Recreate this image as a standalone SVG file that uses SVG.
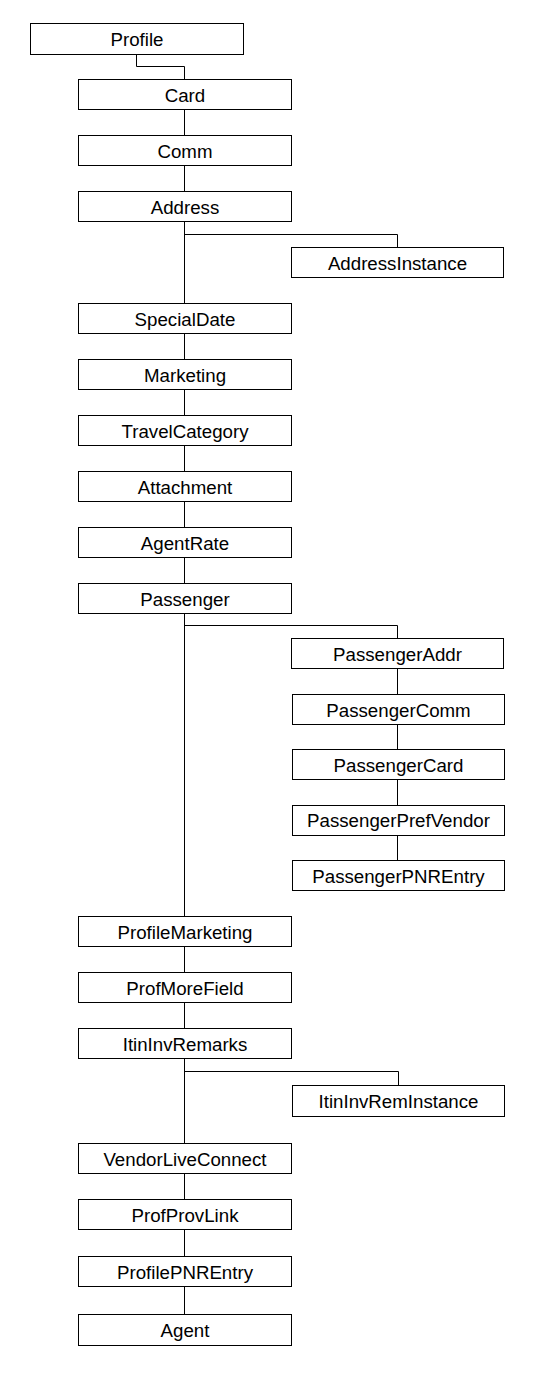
<svg xmlns="http://www.w3.org/2000/svg" width="536" height="1385" viewBox="0 0 536 1385">
<style>
rect{fill:#fff;stroke:#000;stroke-width:1}
text{font-family:"Liberation Sans",Arial,sans-serif;font-size:18.7px;fill:#000;text-anchor:middle}
#connectors path{fill:none;stroke:#000;stroke-width:1}
</style>
<rect x="0" y="0" width="536" height="1385" style="stroke:none"/>
<g id="connectors">
<path d="M136.5 54.5V66.5H184.5V79.5"/>
<path d="M184.5 109.5V135.5"/>
<path d="M184.5 165.5V191.5"/>
<path d="M184.5 221.5V303.5"/>
<path d="M184.5 234.5H397.5V247.5"/>
<path d="M184.5 333.5V359.5"/>
<path d="M184.5 389.5V415.5"/>
<path d="M184.5 445.5V471.5"/>
<path d="M184.5 501.5V527.5"/>
<path d="M184.5 557.5V583.5"/>
<path d="M184.5 613.5V916.5"/>
<path d="M184.5 625.5H397.5V638.5"/>
<path d="M397.5 668.5V694.5"/>
<path d="M397.5 724.5V749.5"/>
<path d="M397.5 779.5V805.5"/>
<path d="M397.5 835.5V860.5"/>
<path d="M184.5 946.5V972.5"/>
<path d="M184.5 1002.5V1028.5"/>
<path d="M184.5 1058.5V1143.5"/>
<path d="M184.5 1071.5H398.5V1085.5"/>
<path d="M184.5 1173.5V1199.5"/>
<path d="M184.5 1229.5V1256.5"/>
<path d="M184.5 1286.5V1314.5"/>
</g>
<g id="Profile"><rect x="30.5" y="23.5" width="213" height="31"/><text x="137" y="46">Profile</text></g>
<g id="Card"><rect x="78.5" y="79.5" width="213" height="30"/><text x="185" y="101.5">Card</text></g>
<g id="Comm"><rect x="78.5" y="135.5" width="213" height="30"/><text x="185" y="157.5">Comm</text></g>
<g id="Address"><rect x="78.5" y="191.5" width="213" height="30"/><text x="185" y="213.5">Address</text></g>
<g id="AddressInstance"><rect x="291.5" y="247.5" width="212" height="30"/><text x="397.5" y="269.5">AddressInstance</text></g>
<g id="SpecialDate"><rect x="78.5" y="303.5" width="213" height="30"/><text x="185" y="325.5">SpecialDate</text></g>
<g id="Marketing"><rect x="78.5" y="359.5" width="213" height="30"/><text x="185" y="381.5">Marketing</text></g>
<g id="TravelCategory"><rect x="78.5" y="415.5" width="213" height="30"/><text x="185" y="437.5">TravelCategory</text></g>
<g id="Attachment"><rect x="78.5" y="471.5" width="213" height="30"/><text x="185" y="493.5">Attachment</text></g>
<g id="AgentRate"><rect x="78.5" y="527.5" width="213" height="30"/><text x="185" y="549.5">AgentRate</text></g>
<g id="Passenger"><rect x="78.5" y="583.5" width="213" height="30"/><text x="185" y="605.5">Passenger</text></g>
<g id="PassengerAddr"><rect x="291.5" y="638.5" width="212" height="30"/><text x="397.5" y="660.5">PassengerAddr</text></g>
<g id="PassengerComm"><rect x="292.5" y="694.5" width="212" height="30"/><text x="398.5" y="716.5">PassengerComm</text></g>
<g id="PassengerCard"><rect x="292.5" y="749.5" width="212" height="30"/><text x="398.5" y="771.5">PassengerCard</text></g>
<g id="PassengerPrefVendor"><rect x="292.5" y="805.5" width="212" height="30"/><text x="398.5" y="827">PassengerPrefVendor</text></g>
<g id="PassengerPNREntry"><rect x="292.5" y="860.5" width="212" height="30"/><text x="398.5" y="882.5">PassengerPNREntry</text></g>
<g id="ProfileMarketing"><rect x="78.5" y="916.5" width="213" height="30"/><text x="185" y="938.5">ProfileMarketing</text></g>
<g id="ProfMoreField"><rect x="78.5" y="972.5" width="213" height="30"/><text x="185" y="994.5">ProfMoreField</text></g>
<g id="ItinInvRemarks"><rect x="78.5" y="1028.5" width="213" height="30"/><text x="185" y="1050.5">ItinInvRemarks</text></g>
<g id="ItinInvRemInstance"><rect x="292.5" y="1085.5" width="212" height="31"/><text x="398.5" y="1108">ItinInvRemInstance</text></g>
<g id="VendorLiveConnect"><rect x="78.5" y="1143.5" width="213" height="30"/><text x="185" y="1165.5">VendorLiveConnect</text></g>
<g id="ProfProvLink"><rect x="78.5" y="1199.5" width="213" height="30"/><text x="185" y="1221.5">ProfProvLink</text></g>
<g id="ProfilePNREntry"><rect x="78.5" y="1256.5" width="213" height="30"/><text x="185" y="1278.5">ProfilePNREntry</text></g>
<g id="Agent"><rect x="78.5" y="1314.5" width="213" height="31"/><text x="185" y="1337">Agent</text></g>
</svg>
